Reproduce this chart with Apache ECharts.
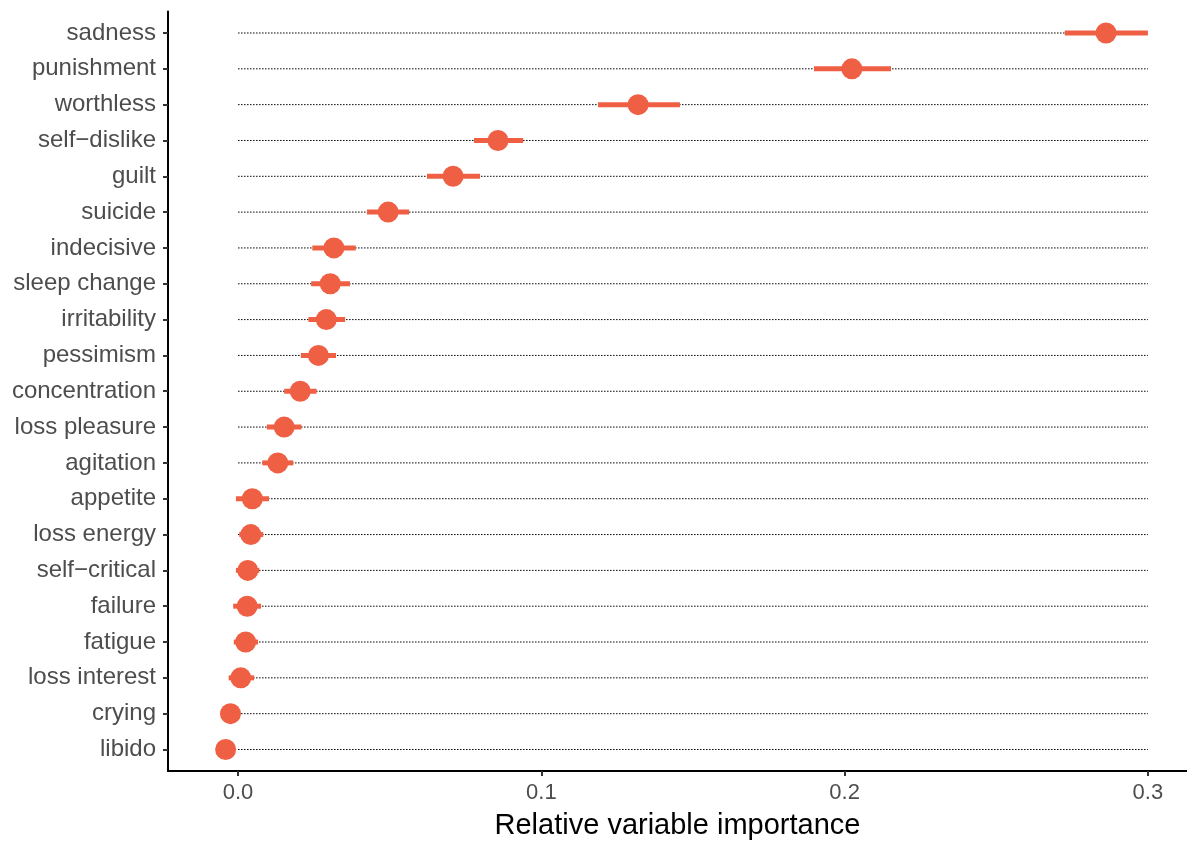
<!DOCTYPE html>
<html>
<head>
<meta charset="utf-8">
<script src="https://cdn.jsdelivr.net/npm/echarts@6/dist/echarts.min.js"></script>
<style>html,body{margin:0;padding:0;background:#fff;}#c{width:1187px;height:845px;}</style>
</head>
<body>
<div id="c"></div>
<script>
var categories = ['sadness','punishment','worthless','self\u2212dislike','guilt','suicide','indecisive','sleep change','irritability','pessimism','concentration','loss pleasure','agitation','appetite','loss energy','self\u2212critical','failure','fatigue','loss interest','crying','libido'];
var importance = [0.2862,0.2024,0.1319,0.0857,0.0709,0.0495,0.0316,0.0304,0.0291,0.0265,0.0205,0.0152,0.0131,0.0047,0.0042,0.0032,0.0030,0.0025,0.0009,-0.0025,-0.0041];
var lower = [0.2726,0.1899,0.1187,0.0778,0.0623,0.0425,0.0245,0.0241,0.0232,0.0207,0.0152,0.0095,0.0080,-0.0007,0.0004,-0.0007,-0.0016,-0.0014,-0.0031,-0.0050,-0.0070];
var upper = [0.3000,0.2153,0.1457,0.0940,0.0798,0.0564,0.0388,0.0369,0.0353,0.0323,0.0259,0.0209,0.0182,0.0102,0.0083,0.0070,0.0076,0.0066,0.0053,0.0000,-0.0012];
var guideEnd = 0.3;
var xTicks = [0, 0.1, 0.2, 0.3];

var col = '#EF5F44';
var FONT = 'Liberation Sans, Arial, sans-serif';
var idx = categories.map(function(_, i){ return i; });

var chart = echarts.init(document.getElementById('c'), null, {renderer:'canvas'});
chart.setOption({
  animation: false,
  grid: {left: 168, right: 0, top: 11.5, bottom: 72, containLabel: false},
  xAxis: {
    type: 'value', min: -0.0231, max: 0.3129,
    splitLine: {show: false},
    axisLine: {show: true, onZero: false, lineStyle: {color: '#000', width: 2}},
    axisTick: {show: true, length: 5, lineStyle: {color: '#333', width: 2}, customValues: xTicks},
    axisLabel: {customValues: xTicks, color: '#4d4d4d', fontSize: 22, fontFamily: FONT, margin: 11,
      formatter: function(v){ return v.toFixed(1); }},
    name: 'Relative variable importance', nameLocation: 'middle', nameGap: 40,
    nameTextStyle: {color: '#000', fontSize: 29, fontFamily: FONT, verticalAlign: 'top'}
  },
  yAxis: {
    type: 'value', inverse: true, min: -0.6, max: 20.6,
    splitLine: {show: false},
    axisLine: {show: true, onZero: false, lineStyle: {color: '#000', width: 2}},
    axisTick: {show: true, length: 5, lineStyle: {color: '#333', width: 2}, customValues: idx},
    axisLabel: {customValues: idx, color: '#4d4d4d', fontSize: 24, fontFamily: FONT, margin: 12,
      formatter: function(v){ return categories[Math.round(v)] || ''; }}
  },
  series: [
    {
      type: 'custom', silent: true,
      data: idx.map(function(i){ return [0, i, guideEnd]; }),
      encode: {x: [0, 2], y: 1},
      renderItem: function(params, api){
        var a = api.coord([api.value(0), api.value(1)]);
        var b = api.coord([api.value(2), api.value(1)]);
        return {type: 'line', shape: {x1: a[0], y1: a[1], x2: b[0], y2: b[1]},
          style: {stroke: '#000', lineWidth: 1, lineDash: [1.5, 1.5]}};
      }
    },
    {
      type: 'custom', silent: true,
      data: idx.map(function(i){ return [lower[i], i, upper[i]]; }),
      encode: {x: [0, 2], y: 1},
      renderItem: function(params, api){
        var a = api.coord([api.value(0), api.value(1)]);
        var b = api.coord([api.value(2), api.value(1)]);
        return {type: 'line', shape: {x1: a[0], y1: a[1], x2: b[0], y2: b[1]},
          style: {stroke: col, lineWidth: 5}};
      }
    },
    {
      type: 'scatter', symbol: 'circle', symbolSize: 21,
      itemStyle: {color: col, opacity: 1},
      data: idx.map(function(i){ return [importance[i], i]; })
    }
  ]
});
</script>
</body>
</html>
